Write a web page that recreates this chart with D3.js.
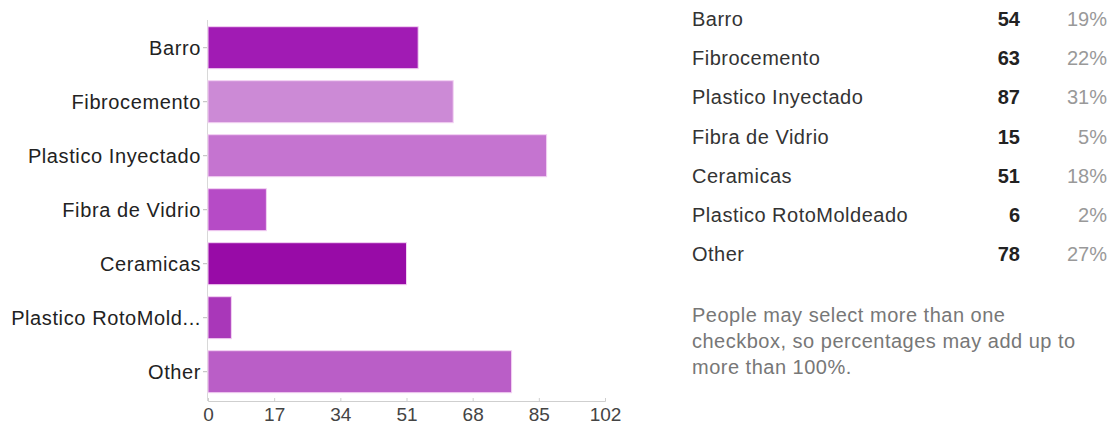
<!DOCTYPE html>
<html><head><meta charset="utf-8">
<script src="https://cdn.jsdelivr.net/npm/d3@7"></script>
<style>
html,body{margin:0;padding:0;background:#fff;}
svg{display:block;}
text{font-family:"Liberation Sans",Arial,Helvetica,sans-serif;}
</style></head>
<body><svg id="c" width="1110" height="427"></svg>
<script>
const categories = ["Barro","Fibrocemento","Plastico Inyectado","Fibra de Vidrio","Ceramicas","Plastico RotoMoldeado","Other"];
const axisLabels = ["Barro","Fibrocemento","Plastico Inyectado","Fibra de Vidrio","Ceramicas","Plastico RotoMold...","Other"];
const counts = [54,63,87,15,51,6,78];
const percents = ["19%","22%","31%","5%","18%","2%","27%"];
const barColors = ["#a11bb4","#cc8ad6","#c574d0","#b64bc6","#980ba7","#a937b9","#ba5ec7"];
const xTicks = [0,17,34,51,68,85,102];
const noteLines = ["People may select more than one","checkbox, so percentages may add up to","more than 100%."];

const svg = d3.select("#c");
const x = d3.scaleLinear().domain([0,102]).range([208,605]);
const y = d3.scaleBand().domain(categories).range([20.7,398.7]).paddingInner(0.222).paddingOuter(0.111);

// left axis line
svg.append("line").attr("x1",207.5).attr("x2",207.5).attr("y1",20).attr("y2",401)
  .attr("stroke","#d8d8d8").attr("stroke-width",1);

// bars
svg.append("g").selectAll("rect").data(categories).join("rect")
  .attr("x",x(0)).attr("y",d=>y(d)).attr("width",(d,i)=>x(counts[i])-x(0)).attr("height",y.bandwidth())
  .attr("fill",(d,i)=>barColors[i]).attr("stroke","#f3d2f3").attr("stroke-width",1);

// category labels and ticks
const cl = svg.append("g");
cl.selectAll("line").data(categories).join("line")
  .attr("x1",203).attr("x2",207).attr("y1",d=>y(d)+y.bandwidth()/2).attr("y2",d=>y(d)+y.bandwidth()/2)
  .attr("stroke","#bbb");
cl.selectAll("text").data(categories).join("text")
  .attr("x",201).attr("y",d=>y(d)+y.bandwidth()/2).attr("dy","0.35em")
  .attr("text-anchor","end").attr("font-size",20).attr("letter-spacing","0.6px").attr("fill","#222")
  .text((d,i)=>axisLabels[i]);

// x axis
const xa = svg.append("g").attr("transform","translate(0,401)")
  .call(d3.axisBottom(x).tickValues(xTicks).tickSize(-3).tickPadding(7).tickFormat(d3.format("d")));
xa.select(".domain").attr("stroke","#cfcfcf");
xa.selectAll(".tick line").attr("stroke","#cfcfcf");
xa.selectAll(".tick text").attr("font-size",19).attr("fill","#444").attr("font-family","Liberation Sans, Arial, sans-serif").attr("dy","0.71em");

// right table
const ty = d3.scalePoint().domain(categories).range([19,254]);
const tg = svg.append("g");
tg.selectAll("text.lab").data(categories).join("text").attr("class","lab")
  .attr("x",692).attr("y",d=>ty(d)).attr("dy","0.35em").attr("font-size",20).attr("letter-spacing","0.5px").attr("fill","#333").text(d=>d);
tg.selectAll("text.cnt").data(categories).join("text").attr("class","cnt")
  .attr("x",1020).attr("y",d=>ty(d)).attr("dy","0.35em").attr("text-anchor","end")
  .attr("font-size",20).attr("font-weight","bold").attr("fill","#222").text((d,i)=>counts[i]);
tg.selectAll("text.pct").data(categories).join("text").attr("class","pct")
  .attr("x",1107).attr("y",d=>ty(d)).attr("dy","0.35em").attr("text-anchor","end")
  .attr("font-size",20).attr("fill","#999").text((d,i)=>percents[i]);

// note
svg.append("g").selectAll("text").data(noteLines).join("text")
  .attr("x",692).attr("y",(d,i)=>315+26*i).attr("dy","0.35em").attr("font-size",20).attr("letter-spacing","0.5px").attr("fill","#777").text(d=>d);
</script></body></html>
